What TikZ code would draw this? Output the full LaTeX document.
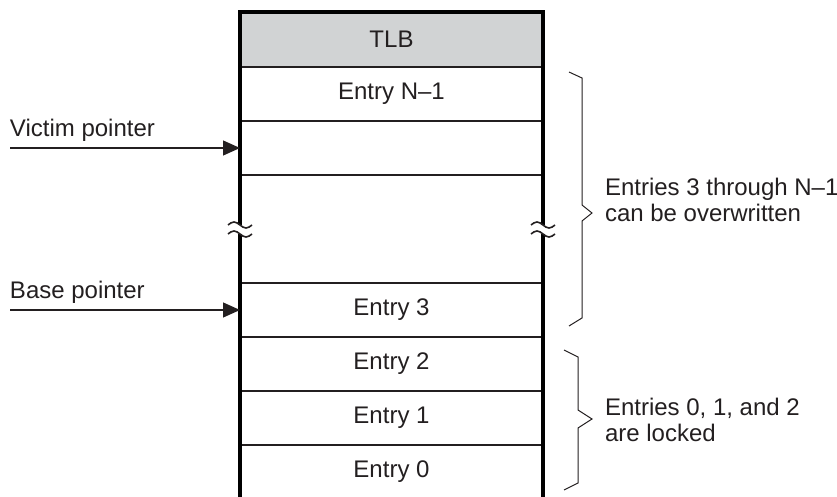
\documentclass[tikz,border=0pt]{standalone}
\usepackage{fontspec}
\setmainfont{Liberation Sans}
\usetikzlibrary{positioning,arrows.meta}
\definecolor{headgray}{HTML}{D1D3D4}
\definecolor{inkgray}{HTML}{231F20}

\begin{document}
\begin{tikzpicture}[x=0.5pt, y=-0.5pt,
      every node/.style = {font=\fontsize{12}{13}\selectfont, text=inkgray, inner sep=0pt, outer sep=0pt},
      cell/.style = {minimum width=151.5pt, minimum height=27pt},
      rowline/.style = {line width=0.8pt, draw=inkgray},
      sideline/.style = {line width=1.7pt, draw=black},
      pointer/.style = {line width=0.6pt, draw=inkgray, -{Triangle[length=8.5pt,width=7.5pt]}},
      bracket/.style = {line width=0.5pt, draw=inkgray}]
  \useasboundingbox (0,0) rectangle (837,497);
  % the table
  \node[cell, minimum height=27.5pt, fill=headgray] (tlb) at (391.5,39.5) {TLB};
  \node[cell, below=0pt of tlb] (eN) {Entry N--1};
  \node[cell, below=0pt of eN] (victim) {};
  \node[cell, minimum height=54pt, below=0pt of victim] (gap) {};
  \node[cell, below=0pt of gap] (e3) {Entry 3};
  \node[cell, below=0pt of e3] (e2) {Entry 2};
  \node[cell, below=0pt of e2] (e1) {Entry 1};
  \node[cell, below=0pt of e1] (e0) {Entry 0};
  \foreach \n in {eN,victim,gap,e3,e2,e1,e0}
    \draw[rowline] (\n.north west) -- (\n.north east);
  \coordinate (bot) at (0,497);
  \coordinate (bLu) at ([yshift=2pt]gap.west);
  \coordinate (bLd) at ([yshift=-2.5pt]gap.west);
  \coordinate (bRu) at ([yshift=2pt]gap.east);
  \coordinate (bRd) at ([yshift=-2.5pt]gap.east);
  \draw[sideline] (bLu) -- (tlb.north west) -- (tlb.north east) -- (bRu);
  \draw[sideline] (bLd) -- (bLd |- bot);
  \draw[sideline] (bRd) -- (bRd |- bot);
  \foreach \b in {bLu,bLd,bRu,bRd}
    \draw[rowline] (\b) ++(-12,0) sin ++(6,-3) cos ++(6,3) sin ++(6,3) cos ++(6,-3);
  % pointers
  \node[anchor=base west] (vlabel) at (10,137) {Victim pointer};
  \coordinate[below=5.5pt of vlabel.base west] (vtail);
  \draw[pointer] (vtail) -- (vtail -| victim.west);
  \node[anchor=base west] (blabel) at (10,299) {Base pointer};
  \coordinate[below=5.5pt of blabel.base west] (btail);
  \draw[pointer] (btail) -- (btail -| e3.west);
  % braces
  \coordinate (tipA) at (592,213);
  \coordinate (tipB) at (592,419);
  \draw[bracket] (569,72) -- (582,78) -- (582,205) -- (tipA) -- (582,221) -- (582,318) -- (569,326);
  \draw[bracket] (564,350) -- (578,357) -- (578,410) -- (tipB) -- (578,428) -- (578,483) -- (564,490);
  \node[anchor=west, align=left] (overw) at (605,200) {Entries 3 through N--1\\can be overwritten};
  \node[anchor=west, align=left] (locked) at (605,420) {Entries 0, 1, and 2\\are locked};
\end{tikzpicture}
\end{document}
